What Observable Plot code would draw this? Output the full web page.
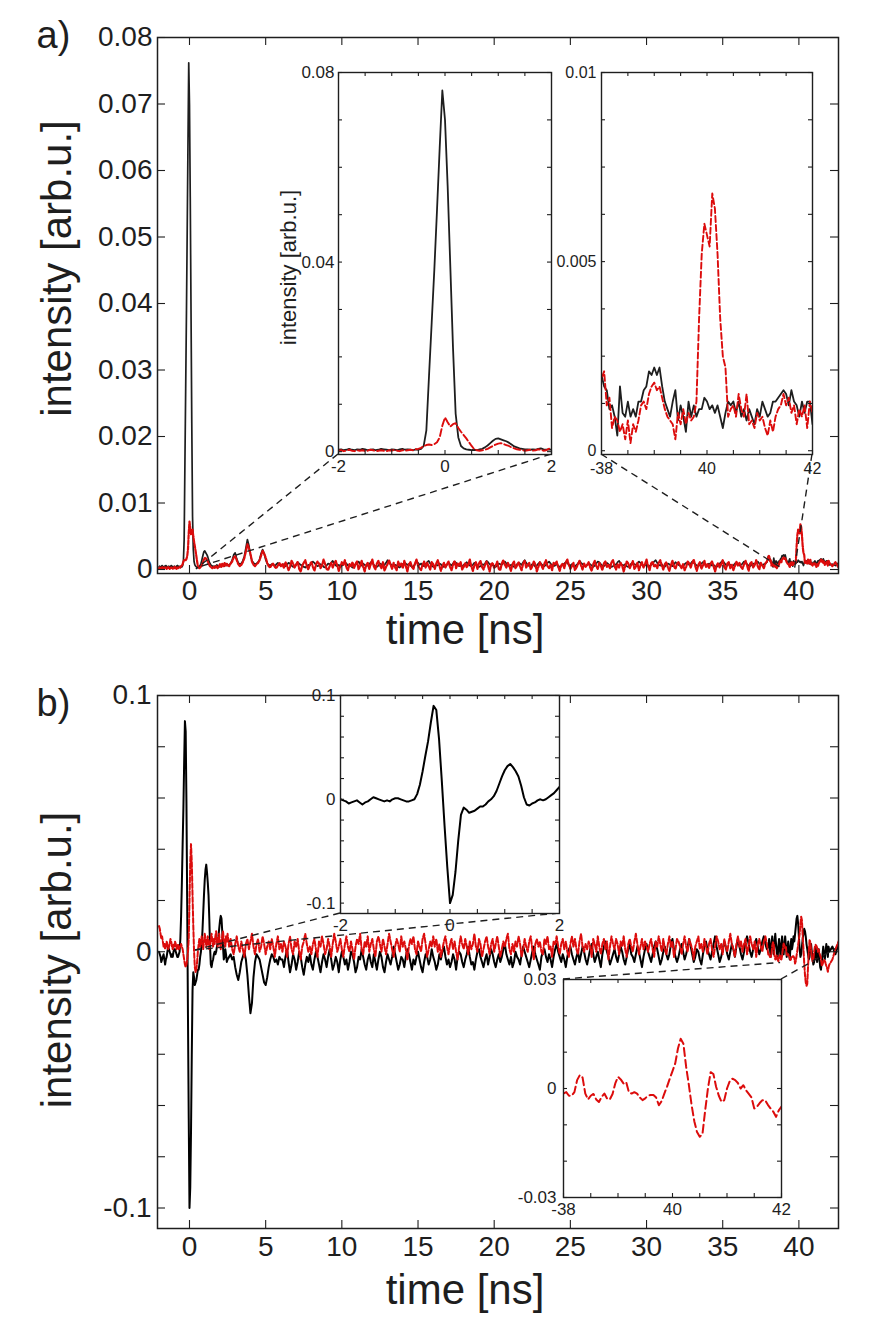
<!DOCTYPE html>
<html><head><meta charset="utf-8">
<script src="https://cdn.jsdelivr.net/npm/d3@7"></script>
<script src="https://cdn.jsdelivr.net/npm/@observablehq/plot@0.6"></script>
<style>
body{margin:0;background:#fff;}
#root{position:relative;width:872px;height:1338px;overflow:hidden;background:#fff;}
#root svg{position:absolute;left:0;top:0;}
</style></head><body><div id="root"></div>
<script>
// ---------- sampling grids (ns) ----------
const tWin1 = d3.range(-40, 51).map(i => i / 20);   // -2 .. 2.5, step 0.05
const tMid  = d3.range(26, 380).map(i => i / 10);   // 2.6 .. 37.9, step 0.1
const tWin2 = d3.range(760, 841).map(i => i / 20);  // 38 .. 42, step 0.05
const tTail = d3.range(211, 216).map(i => i / 5);   // 42.2 .. 43

// ---------- panel a values (units of 1e-4 arb.u.) ----------
const A_UNIT = 1e-4;
const aBlackWin1 = [4,5,3,4,6,4,3,5,4,6,5,3,4,5,3,4,6,5,4,3,5,4,3,5,6,4,5,4,3,5,4,
  6,12,45,160,272,385,510,640,762,700,560,390,220,80,30,12,7,5,
  4,3,4,3,5,6,9,13,18,23,27,28,26,24,22,19,15,11,9,7,6,5,5,4,5,4,6,7,5,4,5,4,6,5,7,8,6,5,7,9,8,6];
const aRedWin1 = [2,3,1,2,4,2,1,3,2,3,1,2,4,3,1,2,3,2,1,3,2,4,2,1,3,2,3,4,3,5,6,
  8,12,14,15,14,16,20,30,55,72,62,53,58,60,50,42,35,28,
  20,12,5,3,2,3,4,6,9,12,15,17,18,16,14,12,9,7,5,4,3,2,3,4,2,3,5,4,2,3,6,8,5,4,9,7,5,10,8,6,9,7];
const aBlackMid = [7,9,14,22,25,16,10,8,9,13,20,32,45,36,22,13,10,8,9,11,15,24,30,24,15,9,7,6,8,7,5,8,10,7,6,
  6,8,5,7,10,9,6,4,5,8,11,9,7,6,4,3,5,7,6,9,
  12,10,7,5,6,8,7,4,3,6,9,8,10,13,9,6,5,7,4,6,
  8,11,9,6,7,5,3,4,7,10,12,8,6,9,7,5,6,8,11,10,
  7,5,4,6,9,8,5,7,10,14,11,8,6,5,7,6,4,3,6,8,
  10,9,7,8,6,4,5,8,12,10,7,9,6,5,8,11,13,9,6,4,
  5,7,6,9,8,5,4,6,7,10,8,6,9,12,10,7,5,6,4,7,
  9,11,8,6,5,7,10,9,6,4,5,8,7,9,13,11,8,6,7,5,
  4,6,9,8,7,10,12,9,6,5,7,6,4,5,8,10,9,7,11,14,
  10,7,5,6,8,7,4,6,9,11,8,6,5,7,10,12,9,7,5,6,
  8,6,4,5,7,9,11,10,7,6,8,5,4,7,9,13,10,8,6,5,
  7,9,8,6,4,6,9,12,11,8,6,5,7,10,8,6,4,5,8,7,
  11,13,9,7,6,8,5,4,6,9,10,8,7,9,12,10,7,5,6,8,
  6,5,7,9,12,14,10,7,6,8,5,4,7,9,8,6,5,8,11,9,
  7,6,4,5,8,10,9,7,9,12,10,8,6,5,7,9,11,8,6,7,
  9,8,6,7,5,4,6,9,11,13,10,7,6,8,7,5,6,9,10,8,
  6,7,9,12,10,8,6,5,7,9,8,10,12,9,7,6,8,9,11];
const aRedMid = [5,9,12,18,20,14,8,5,7,11,17,27,38,32,24,12,7,5,8,10,14,21,28,24,18,10,5,3,7,9,4,2,6,10,5,
  8,2,11,6,-1,4,13,9,3,7,12,1,-3,6,10,14,5,0,8,11,
  4,-2,7,12,9,2,6,15,8,1,-1,5,10,3,9,13,6,-2,4,11,
  7,14,3,-1,8,5,11,2,9,12,0,6,13,4,-3,7,10,1,8,15,
  5,0,9,13,6,2,11,-2,4,8,14,7,1,10,3,-1,12,6,9,2,
  13,5,-3,8,11,4,1,9,15,6,2,-1,7,12,3,10,5,0,11,8,
  1,9,14,6,-2,5,10,3,8,12,4,-1,7,13,2,9,6,11,0,4,
  10,3,8,15,5,-2,6,11,1,9,13,4,0,7,12,5,-3,8,10,2,
  6,12,1,-1,9,14,7,3,10,5,-2,8,12,2,6,11,4,-1,9,13,
  3,7,10,0,5,12,8,-3,4,11,6,1,9,14,5,2,7,-1,10,8,
  12,4,-2,6,9,2,11,15,7,1,5,10,-1,3,8,13,6,0,9,4,
  7,11,3,-2,8,13,5,1,10,6,-1,9,12,4,7,2,11,14,5,0,
  8,3,10,6,-3,5,12,9,2,7,13,1,4,10,-1,6,11,3,8,15,
  5,-1,9,12,4,7,2,10,14,6,0,8,11,3,-2,7,13,5,1,9,
  11,6,2,8,-1,4,12,9,3,10,15,5,-2,7,11,1,6,13,4,8,
  2,9,12,5,-3,6,10,3,8,14,4,0,9,11,2,7,-1,5,12,6,
  10,4,1,8,13,6,-2,9,11,3,7,14,5,0,10,6,2,9,12];
const aBlackWin2 = [20,17,16,11,12,9,4,17,10,9,13,9,11,9,13,13,16,17,21,20,
  22,20,22,17,13,11,9,13,16,8,12,9,5,13,9,12,9,11,11,14,
  13,11,12,10,12,9,6,10,13,12,13,10,13,9,11,8,11,9,7,11,
  9,13,11,9,10,13,13,14,15,16,15,12,16,13,12,9,13,10,13,13,
  7];
const aRedWin2 = [19,21,12,14,6,9,8,5,7,3,8,2,7,5,8,12,13,11,15,17,
  18,16,17,14,11,9,8,7,3,10,7,11,7,10,8,9,13,35,52,60,
  57,54,68,64,52,35,25,22,9,11,12,9,15,11,9,15,7,8,6,10,
  8,9,6,4,8,5,9,11,12,15,12,14,10,12,7,11,9,12,6,13,
  10];
const aBlackTail = [8,6,10,7,9];
const aRedTail = [5,11,3,9,6];

// ---------- panel b values (units of 1e-3 arb.u.) ----------
const B_UNIT = 1e-3;
const bBlackWin1 = [0,-1,-2,-4,-3,-2,-1,-3,-5,-3,-2,0,2,1,0,-1,-2,-1,-2,0,1,1,0,-1,-2,-2,-1,0,
  5,14,27,42,56,74,90,86,58,18,-25,-65,-100,-92,-70,-40,-15,-8,-10,-13,-12,
  -11,-9,-7,-7,-5,-2,0,3,8,15,22,28,32,34,31,27,22,13,2,-5,-6,-4,-3,-1,0,-1,0,2,4,6,9,12,14,13,8,2,-3,-2,1,-1,-4,-3];
const bRedWin1 = [10,9,7,5,6,4,2,3,1,2,4,3,1,2,3,5,4,2,1,3,2,4,3,1,2,3,1,2,
  2,3,2,1,-1,-3,-5,-6,-5,-3,0,5,20,35,42,35,22,10,0,-6,-8,
  -7,-4,0,3,5,2,4,6,3,1,4,7,5,2,3,6,4,1,3,5,7,4,2,5,3,6,8,4,2,5,7,3,1,4,6,8,5,3,2,6,4,7];
const bBlackMid = [-2,-1,-3,-2,-6,-9,-11,-8,-4,-2,0,-3,-9,-17,-24,-20,-10,-4,-1,-2,-3,-6,-9,-12,-13,-10,-6,-3,-1,-2,-4,-3,-5,-2,-3,
  -3,-6,-2,1,-4,-8,-5,-1,-3,-7,-4,0,-2,-6,-9,-5,-2,-4,-1,-5,
  -7,-3,0,-2,-5,-8,-4,-1,-3,-6,-2,1,-3,-7,-5,-2,-4,-8,-3,0,
  -2,-5,-3,-7,-4,0,-1,-4,-8,-6,-2,-3,1,-2,-5,-7,-3,-1,-4,-6,
  -1,-4,-7,-3,0,-2,-6,-8,-4,-1,-3,-5,-2,2,-1,-4,-7,-5,-2,-3,
  -6,-2,1,-1,-4,-7,-3,-5,-2,0,-3,-6,-8,-4,-1,-2,-5,-3,1,-2,
  -4,-7,-5,-1,-3,0,2,-2,-5,-3,-6,-4,-1,-3,-7,-2,0,-1,-4,-6,
  -3,-1,2,-2,-5,-4,-7,-3,0,1,-2,-4,-6,-3,-1,-5,-2,1,-1,-4,
  -6,-3,-1,-4,-2,1,3,-1,-3,-5,-2,-6,-4,0,-2,-3,-5,-1,2,0,
  -2,-4,-6,-3,0,2,-1,-3,-5,-7,-2,0,1,-2,-4,-1,-3,-6,-2,1,
  3,0,-2,-4,-1,-3,-6,-2,1,2,-1,-3,-5,-2,0,-4,-1,2,0,-3,
  -5,-2,1,3,-1,-4,-2,0,-3,-6,-1,2,4,0,-2,-5,-3,-1,1,-2,
  -4,-1,2,0,-3,-5,-2,1,3,-1,-2,-4,-1,2,0,-3,-6,-2,1,3,
  0,-2,-4,-1,2,4,1,-2,-5,-3,0,2,-1,-3,-1,3,5,1,-2,-4,
  -2,1,3,0,-3,-1,2,5,2,-1,-4,-2,1,0,-3,-5,-1,2,4,1,
  -1,-3,0,3,6,2,-1,-4,-2,1,4,2,-1,-3,0,3,1,-2,2,5,
  2,-1,-3,0,4,6,3,0,-2,1,3,5,2,-1,1,4,6,3,1];
const bRedMid = [2,5,1,-1,3,6,2,0,4,1,-2,3,5,1,4,7,2,-1,3,5,0,2,6,3,-1,2,4,1,5,2,-2,3,6,1,3,
  0,4,2,-2,3,6,1,-1,4,2,5,0,-3,2,4,7,3,0,2,-1,
  3,5,1,-2,4,2,6,3,-1,1,5,2,-2,3,7,4,0,2,5,1,
  -2,3,6,2,0,4,1,-3,2,5,3,7,1,-1,4,2,6,0,3,5,
  1,-2,4,6,3,0,5,2,-1,3,7,4,1,-2,2,5,3,0,6,2,
  4,1,-3,2,5,3,6,1,-1,4,2,0,5,7,3,-2,1,4,2,6,
  2,5,0,3,-2,1,4,6,2,-1,3,5,1,4,0,-3,2,6,3,1,
  5,2,-1,4,1,3,7,2,0,5,3,-2,1,4,6,2,-1,3,5,0,
  3,6,2,-2,1,4,2,5,7,1,-1,3,0,4,2,6,3,-2,1,5,
  2,0,4,6,1,-3,3,5,2,4,0,-1,5,3,6,1,2,-2,4,3,
  6,2,-1,3,5,1,4,0,-2,3,6,2,5,1,-1,4,7,2,0,3,
  1,4,2,-2,5,3,0,6,2,-1,3,5,1,4,-3,2,6,3,1,5,
  3,-1,4,2,6,1,-2,3,5,2,0,4,7,3,-1,2,5,1,4,2,
  0,3,5,1,-2,4,2,6,3,0,5,1,-1,3,6,2,4,-2,1,5,
  4,2,-1,3,6,2,0,5,3,1,-3,2,4,6,1,3,0,5,2,-1,
  3,5,1,-2,2,6,4,1,3,-1,5,2,0,4,7,3,1,-2,3,6,
  2,4,0,3,5,-1,2,6,3,1,4,-2,3,5,2,0,4,6,3];
const bBlackWin2 = [2,5,1,-2,3,6,2,-1,4,7,3,0,-3,2,5,1,-2,3,6,2,
  -1,3,6,2,-2,1,4,0,-3,2,5,1,3,6,4,7,10,13,14,11,
  6,1,-2,-1,2,5,7,9,8,6,3,1,-1,-3,-2,1,3,0,-3,-5,
  -4,-1,2,-2,-4,-1,1,-3,-6,-7,-4,-1,2,-1,-3,0,3,1,-2,2,
  0];
const bRedWin2 = [-1.4,-1,-2,-2,-1,2.3,3.7,3,-1.4,-3,-2,-1.5,-3,-3.7,-2.3,-1.4,-2.8,-3,-1.5,1.4,
  3.2,2.5,1.4,1.8,-1,-1.4,-1,-1.4,-2.5,-3.2,-2.7,-2,-1.8,-1.8,-2.5,-4.6,-3.5,-1.4,0.5,2.7,
  4.8,6.9,11,13.7,12.3,6,1,-4.5,-9,-12,-13.3,-12.5,-6,0,4.5,4,0.5,-2,-3.7,-3.2,
  0,2,2.7,2.3,1.5,0,0.9,-0.5,-1.5,-2.5,-5.5,-5,-4,-3.2,-3.2,-4.5,-5.5,-6.4,-7.8,-6,
  -5];
const bBlackTail = [2,-1,3,0,-2];
const bRedTail = [-3,1,4,-1,2];

// ---------- ticks and labels ----------
const mainXTicks = [0,5,10,15,20,25,30,35,40];
const aYTicks = [0,0.01,0.02,0.03,0.04,0.05,0.06,0.07,0.08];
const bYTicks = [-0.1,-0.08,-0.06,-0.04,-0.02,0,0.02,0.04,0.06,0.08,0.1];
const bYLabels = [-0.1,0,0.1];
const zoomNearTicks = [-2,-1.5,-1,-0.5,0,0.5,1,1.5,2];
const zoomNearLabels = [-2,0,2];
const zoomFarTicks = [38,38.5,39,39.5,40,40.5,41,41.5,42];
const zoomFarLabels = [38,40,42];
const zoomFarLabelText = ["-38","40","42"];
const a1YLabels = [0,0.04,0.08];
const a2YTicks = [0,0.00125,0.0025,0.00375,0.005,0.00625,0.0075,0.00875,0.01];
const a2YLabels = [0,0.005,0.01];
const b1YLabels = [-0.1,0,0.1];
const b2YTicks = [-0.03,-0.02,-0.01,0,0.01,0.02,0.03];
const b2YLabels = [-0.03,0,0.03];

// ---------- series ----------
function series(unit, parts) {
  const out = [];
  for (const [ts, vs] of parts) ts.forEach((t, i) => out.push({t, v: vs[i] * unit}));
  return out;
}
const aBlack = series(A_UNIT, [[tWin1,aBlackWin1],[tMid,aBlackMid],[tWin2,aBlackWin2],[tTail,aBlackTail]]);
const aRed   = series(A_UNIT, [[tWin1,aRedWin1],[tMid,aRedMid],[tWin2,aRedWin2],[tTail,aRedTail]]);
const bBlack = series(B_UNIT, [[tWin1,bBlackWin1],[tMid,bBlackMid],[tWin2,bBlackWin2],[tTail,bBlackTail]]);
const bRed   = series(B_UNIT, [[tWin1,bRedWin1],[tMid,bRedMid],[tWin2,bRedWin2],[tTail,bRedTail]]);

const FONT = '"Liberation Sans", Arial, Helvetica, sans-serif';
const INK = "#1e1e1e", RED = "#dc0c0c";
const W = 872, H = 1338;
const root = document.getElementById("root");

function panel(o) {
  const fw = o.frame.r - o.frame.l, fh = o.frame.b - o.frame.t;
  const tl = o.tickLen;
  return Plot.plot({
    width: W, height: H,
    marginLeft: o.frame.l, marginRight: W - o.frame.r, marginTop: o.frame.t, marginBottom: H - o.frame.b,
    x: {domain: o.xDomain}, y: {domain: o.yDomain},
    style: {background: "none", fontFamily: FONT, color: INK, overflow: "visible"},
    marks: [
      o.fill ? Plot.frame({fill: "white", stroke: "none"}) : null,
      ...o.lines.map(l => Plot.line(l.data, {x: "t", y: "v", stroke: l.color, strokeWidth: l.width,
        strokeDasharray: l.dash, strokeLinejoin: "round", clip: true})),
      Plot.ruleX(o.xTicks, {x: d => d, insetTop: fh - tl, stroke: INK, strokeWidth: 1.1}),
      Plot.ruleX(o.xTicks, {x: d => d, insetBottom: fh - tl, stroke: INK, strokeWidth: 1.1}),
      Plot.ruleY(o.yTicks, {y: d => d, insetRight: fw - tl, stroke: INK, strokeWidth: 1.1}),
      Plot.ruleY(o.yTicks, {y: d => d, insetLeft: fw - tl, stroke: INK, strokeWidth: 1.1}),
      Plot.frame({stroke: INK, strokeWidth: o.frameWidth || 1.4}),
      Plot.axisX(o.xLabels, {tickSize: 0, tickPadding: o.padX, fontSize: o.fontSize, tickFormat: o.xFmt || (d => String(d)), label: null}),
      Plot.axisY(o.yLabels, {tickSize: 0, tickPadding: o.padY, fontSize: o.fontSize, tickFormat: o.yFmt || (d => String(d)), label: null}),
      ...(o.extra || [])
    ]
  });
}
const farFmt = d => zoomFarLabelText[zoomFarLabels.indexOf(d)];

// ---------- main panel a ----------
const frameA = {l: 157, r: 838, t: 37, b: 573};
const mainA = panel({
  frame: frameA, xDomain: [-2.1, 42.6], yDomain: [-0.0006, 0.08],
  xTicks: mainXTicks, yTicks: aYTicks, xLabels: mainXTicks, yLabels: aYTicks,
  tickLen: 8, fontSize: 28, padX: 7, padY: 5, frameWidth: 1.5,
  lines: [
    {data: aBlack, color: INK, width: 1.7},
    {data: aRed, color: RED, width: 2.2, dash: "4,1.5"}
  ],
  extra: [
    Plot.text(["time [ns]"], {text: d => d, frameAnchor: "bottom", dx: -33, dy: 57, fontSize: 42, textAnchor: "middle", lineAnchor: "middle"}),
    Plot.text(["intensity [arb.u.]"], {text: d => d, frameAnchor: "left", rotate: -90, dx: -100, dy: -37, fontSize: 42, textAnchor: "middle", lineAnchor: "middle"}),
    Plot.text(["a)"], {text: d => d, frameAnchor: "top-left", dx: -104, dy: -2, fontSize: 38, textAnchor: "middle", lineAnchor: "middle"})
  ]
});

// ---------- main panel b ----------
const frameB = {l: 157, r: 838, t: 695, b: 1228};
const mainB = panel({
  frame: frameB, xDomain: [-2.1, 42.6], yDomain: [-0.108, 0.1],
  xTicks: mainXTicks, yTicks: bYTicks, xLabels: mainXTicks, yLabels: bYLabels,
  tickLen: 8, fontSize: 28, padX: 8, padY: 6, frameWidth: 1.5,
  lines: [
    {data: bBlack, color: "#000", width: 2},
    {data: bRed, color: RED, width: 2, dash: "5,2"}
  ],
  extra: [
    Plot.text(["time [ns]"], {text: d => d, frameAnchor: "bottom", dx: -33, dy: 62, fontSize: 42, textAnchor: "middle", lineAnchor: "middle"}),
    Plot.text(["intensity [arb.u.]"], {text: d => d, frameAnchor: "left", rotate: -90, dx: -100, dy: -2, fontSize: 42, textAnchor: "middle", lineAnchor: "middle"}),
    Plot.text(["b)"], {text: d => d, frameAnchor: "top-left", dx: -104, dy: 8, fontSize: 38, textAnchor: "middle", lineAnchor: "middle"})
  ]
});

// ---------- insets ----------
const insetA1 = panel({
  frame: {l: 338, r: 551, t: 72, b: 454}, xDomain: [-2, 2], yDomain: [-0.0006, 0.08], fill: true,
  xTicks: zoomNearTicks, yTicks: aYTicks, xLabels: zoomNearLabels, yLabels: a1YLabels,
  tickLen: 4, fontSize: 17, padX: 5, padY: 4,
  lines: [
    {data: aBlack, color: INK, width: 1.8},
    {data: aRed, color: RED, width: 1.9, dash: "7,3"}
  ],
  extra: [
    Plot.text(["intensity [arb.u.]"], {text: d => d, frameAnchor: "left", rotate: -90, dx: -50, dy: 4, fontSize: 22, textAnchor: "middle", lineAnchor: "middle"})
  ]
});
const insetA2 = panel({
  frame: {l: 601, r: 812, t: 72, b: 454}, xDomain: [38, 42], yDomain: [-0.0001, 0.01], fill: true,
  xTicks: zoomFarTicks, yTicks: a2YTicks, xLabels: zoomFarLabels, yLabels: a2YLabels, xFmt: farFmt,
  tickLen: 4, fontSize: 16, padX: 8, padY: 5,
  lines: [
    {data: aBlack, color: INK, width: 1.8},
    {data: aRed, color: RED, width: 1.9, dash: "6,3"}
  ]
});
const insetB1 = panel({
  frame: {l: 340, r: 559, t: 695, b: 913}, xDomain: [-2, 2], yDomain: [-0.11, 0.1], fill: true,
  xTicks: zoomNearTicks, yTicks: bYTicks, xLabels: zoomNearLabels, yLabels: b1YLabels,
  tickLen: 4, fontSize: 17, padX: 5, padY: 5,
  lines: [
    {data: bBlack, color: "#000", width: 2}
  ]
});
const insetB2 = panel({
  frame: {l: 563, r: 781, t: 979, b: 1197}, xDomain: [38, 42], yDomain: [-0.03, 0.03], fill: true,
  xTicks: zoomFarTicks, yTicks: b2YTicks, xLabels: zoomFarLabels, yLabels: b2YLabels, xFmt: farFmt,
  tickLen: 4, fontSize: 17, padX: 5, padY: 7,
  lines: [
    {data: bRed, color: RED, width: 2, dash: "8,4"}
  ]
});

// ---------- zoom connectors (inset corner -> main-panel point, both in data units) ----------
const connectors = [
  {main: mainA, inset: insetA1, it: -2, iv: -0.0006, t: 0.45, v: 0},
  {main: mainA, inset: insetA1, it: 2,  iv: -0.0006, t: 0.5,  v: 0.0002},
  {main: mainA, inset: insetA2, it: 38, iv: -0.0001, t: 39.0, v: 0},
  {main: mainA, inset: insetA2, it: 42, iv: -0.0001, t: 39.75, v: 0.0001},
  {main: mainB, inset: insetB1, it: -2, iv: -0.11, t: 0.4, v: 0.0005},
  {main: mainB, inset: insetB1, it: 2,  iv: -0.11, t: 0.4, v: 0.0005},
  {main: mainB, inset: insetB2, it: 38, iv: 0.03, t: 38.8, v: -0.0044},
  {main: mainB, inset: insetB2, it: 42, iv: 0.03, t: 42.4, v: 0.001}
];
function scaler(plot, name) {
  const s = plot.scale(name);
  return s.apply ? (v => s.apply(v)) : d3.scaleLinear(s.domain, s.range);
}
const overlay = d3.create("svg").attr("width", W).attr("height", H).attr("viewBox", `0 0 ${W} ${H}`);
for (const c of connectors) {
  const mx = scaler(c.main, "x"), my = scaler(c.main, "y");
  const ix = scaler(c.inset, "x"), iy = scaler(c.inset, "y");
  overlay.append("line")
    .attr("x1", ix(c.it)).attr("y1", iy(c.iv))
    .attr("x2", mx(c.t)).attr("y2", my(c.v))
    .attr("stroke", INK).attr("stroke-width", 1.4).attr("stroke-dasharray", "7,5");
}

root.append(mainA, mainB, overlay.node(), insetA1, insetA2, insetB1, insetB2);
</script></body></html>
